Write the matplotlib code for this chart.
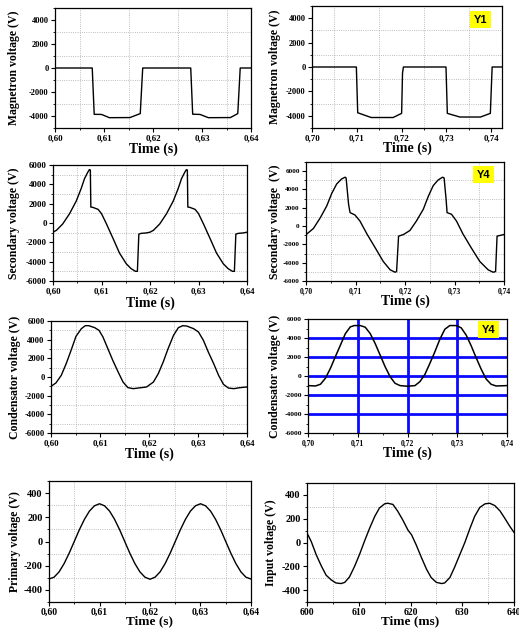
import numpy
import matplotlib
matplotlib.use("Agg")
import matplotlib.pyplot as plt
from matplotlib.ticker import MultipleLocator, FuncFormatter

plt.rcParams['font.family'] = ['Liberation Serif', 'DejaVu Serif']
plt.rcParams['font.weight'] = 'bold'

# magnetron voltage, 0.60 - 0.64 s
mag_t = [0.600, 0.6076, 0.6080, 0.6095, 0.6111, 0.6153, 0.6174, 0.6179,
	0.6277, 0.6281, 0.6296, 0.6313, 0.6358, 0.6373, 0.6378, 0.640]
mag_v = [0, 0, -3860, -3870, -4140, -4130, -3800, 0,
	0, -3850, -3870, -4140, -4130, -3800, 0, 0]

# magnetron voltage Y1, 0.70 - 0.742 s
mag_y1_t = [0.700, 0.7003, 0.7099, 0.7102, 0.7132, 0.7181, 0.7200, 0.7202, 0.7204,
	0.7299, 0.7302, 0.7330, 0.7376, 0.7398, 0.7402, 0.7424]
mag_y1_v = [-60, 0, 0, -3750, -4140, -4140, -3800, -500, 0,
	0, -3800, -4100, -4100, -3800, 0, 0]

# secondary voltage
sec_t = [0.6000, 0.6007, 0.6020, 0.6034, 0.6048, 0.6058, 0.6065, 0.6072, 0.6075, 0.6077,
	0.6078, 0.6082, 0.6093, 0.6100, 0.6110, 0.6124, 0.6137, 0.6151, 0.6161, 0.6170,
	0.6174, 0.6177, 0.6182, 0.6192, 0.6200,
	0.6207, 0.6220, 0.6234, 0.6248, 0.6258, 0.6265, 0.6272, 0.6275, 0.6277,
	0.6278, 0.6282, 0.6293, 0.6300, 0.6310, 0.6324, 0.6337, 0.6351, 0.6361, 0.6370,
	0.6374, 0.6377, 0.6382, 0.6392, 0.6400]
sec_v = [-950, -760, -100, 950, 2280, 3550, 4590, 5280, 5520, 5480,
	1650, 1620, 1410, 970, -70, -1620, -3100, -4210, -4720, -5000,
	-5000, -1150, -1070, -1030, -950,
	-760, -100, 950, 2280, 3550, 4590, 5280, 5520, 5480,
	1650, 1620, 1410, 970, -70, -1620, -3100, -4210, -4720, -5000,
	-5000, -1150, -1070, -1030, -950]

# secondary voltage Y4
sec_y4_t = [0.7002, 0.7015, 0.7029, 0.7042, 0.7052, 0.7062, 0.7072, 0.7079, 0.7081,
	0.7086, 0.7089, 0.7099, 0.7109, 0.7123, 0.7140, 0.7156, 0.7170, 0.7180, 0.7183,
	0.7187, 0.7197, 0.7210, 0.7223, 0.7237, 0.7247, 0.7257, 0.7267, 0.7276, 0.7279,
	0.7283, 0.7285, 0.7294, 0.7304, 0.7317, 0.7334, 0.7351, 0.7368, 0.7378, 0.7383,
	0.7386, 0.7400]
sec_y4_v = [-850, -260, 920, 2210, 3570, 4600, 5150, 5340, 5260,
	2390, 1470, 1210, 550, -850, -2390, -3860, -4780, -5040, -4970,
	-1100, -920, -480, 550, 1840, 3240, 4420, 5040, 5340, 5260,
	2940, 1470, 1290, 550, -850, -2390, -3860, -4780, -5040, -4970,
	-1100, -920]

# condensator voltage
cond_t = [0.6000, 0.6010, 0.6021, 0.6031, 0.6041, 0.6051, 0.6062, 0.6070, 0.6077, 0.6089,
	0.6098, 0.6106, 0.6116, 0.6126, 0.6137, 0.6147, 0.6157, 0.6168, 0.6178, 0.6195,
	0.6209, 0.6219, 0.6229, 0.6239, 0.6250, 0.6260, 0.6269, 0.6277, 0.6291, 0.6301,
	0.6311, 0.6321, 0.6332, 0.6342, 0.6352, 0.6362, 0.6373, 0.6386, 0.6400]
cond_v = [-1000, -640, 180, 1430, 2860, 4360, 5180, 5500, 5500, 5290,
	5000, 4290, 3040, 1790, 540, -540, -1140, -1250, -1180, -1070,
	-540, 360, 1610, 3040, 4460, 5290, 5500, 5460, 5180, 4820,
	3930, 2680, 1430, 180, -790, -1180, -1250, -1140, -1070]

# condensator voltage Y4
cond_y4_t = [0.7000, 0.7015, 0.7025, 0.7035, 0.7045, 0.7055, 0.7065, 0.7075, 0.7085, 0.7093,
	0.7105, 0.7115, 0.7125, 0.7135, 0.7145, 0.7155, 0.7165, 0.7175, 0.7185, 0.7200,
	0.7215, 0.7225, 0.7235, 0.7245, 0.7255, 0.7265, 0.7275, 0.7285, 0.7298, 0.7308,
	0.7318, 0.7328, 0.7338, 0.7348, 0.7358, 0.7368, 0.7378, 0.7400]
cond_y4_v = [-1010, -1050, -870, -240, 800, 2030, 3230, 4450, 5170, 5310,
	5310, 5140, 4470, 3420, 2200, 980, -70, -770, -1010, -1080,
	-1010, -590, 170, 1330, 2550, 3860, 4920, 5310, 5310, 5070,
	4300, 3180, 1920, 730, -310, -870, -1050, -1010]

# primary voltage, time in ms
prim_ms = [600, 601, 602, 603, 604, 605, 606, 607, 608, 609, 610,
	611, 612, 613, 614, 615, 616, 617, 618, 619, 620,
	621, 622, 623, 624, 625, 626, 627, 628, 629, 630,
	631, 632, 633, 634, 635, 636, 637, 638, 639, 640]
prim_v = [-310, -295, -251, -182, -96, 0, 96, 182, 251, 295, 312,
	295, 251, 182, 96, 0, -96, -182, -251, -295, -312,
	-295, -251, -182, -96, 0, 96, 182, 251, 295, 312,
	295, 251, 182, 96, 0, -96, -182, -251, -295, -310]

# input voltage, time in ms
inp_ms = [600.0, 600.8, 601.8, 602.8, 603.7, 604.7, 605.6, 606.6, 607.3, 608.2,
	609.2, 610.2, 611.1, 612.1, 613.1, 614.0, 615.0, 615.6, 616.6, 617.5,
	618.5, 619.5, 620.2, 621.1, 622.1, 623.1, 624.0, 625.0, 626.0, 626.6,
	627.6, 628.5, 629.5, 630.5, 631.5, 632.4, 633.4, 634.4, 635.3, 636.3,
	637.3, 638.2, 639.2, 640.0]
inp_v = [80, 10, -105, -200, -275, -315, -340, -345, -335, -290,
	-200, -95, 10, 120, 220, 290, 325, 330, 320, 265,
	190, 105, 65, -20, -125, -225, -295, -335, -345, -340,
	-295, -210, -105, 0, 120, 220, 295, 325, 330, 310,
	265, 205, 135, 85]

blue_x = [0.71, 0.72, 0.73]
blue_y = [-4000, -2000, 0, 2000, 4000]


def box(l, r, t, b):
	return [l / 519, 1 - b / 628, (r - l) / 519, (b - t) / 628]


comma = FuncFormatter(lambda v, p: ("%.2f" % v).replace(".", ","))
whole = FuncFormatter(lambda v, p: "%d" % round(v))


def setup(ax, xlim, ylim, xstep, ystep, xfmt, xlabel, ylabel, lx, ly, xts, yts, grid=True, xls=10):
	ax.set_xlim(xlim)
	ax.set_ylim(ylim)
	ax.xaxis.set_major_locator(MultipleLocator(xstep))
	ax.xaxis.set_minor_locator(MultipleLocator(xstep / 2))
	ax.yaxis.set_major_locator(MultipleLocator(ystep))
	ax.yaxis.set_minor_locator(MultipleLocator(ystep / 2))
	ax.xaxis.set_major_formatter(xfmt)
	ax.yaxis.set_major_formatter(whole)
	ax.tick_params(which='major', direction='out', length=3, width=0.8, pad=1.5)
	ax.tick_params(which='minor', direction='out', length=1.5, width=0.6)
	ax.tick_params(axis='x', labelsize=xts)
	ax.tick_params(axis='y', labelsize=yts)
	if grid:
		ax.grid(True, which='minor', linestyle=':', color='#a8a8a8', linewidth=0.6)
	for s in ax.spines.values():
		s.set_linewidth(0.9)
	ax.set_xlabel(xlabel, fontsize=xls, fontweight='bold')
	ax.set_ylabel(ylabel, fontsize=8.5, fontweight='bold')
	ax.xaxis.set_label_coords(0.5, ly)
	ax.yaxis.set_label_coords(lx, 0.5)


def tag(ax, text, x, y):
	ax.text(x, y, text, transform=ax.transAxes, ha='center', va='center',
		fontsize=8, fontweight='bold', family=['Liberation Sans', 'DejaVu Sans'],
		bbox=dict(facecolor='#ffff00', edgecolor='none', boxstyle='square,pad=0.3'))


fig = plt.figure(figsize=(5.19, 6.28), dpi=100)

ax1 = fig.add_axes(box(55, 251, 8, 128))
ax1.plot(mag_t, mag_v, color='black', linewidth=1.0)
setup(ax1, (0.60, 0.64), (-5000, 5000), 0.01, 2000, comma, "Time (s)",
	"Magnetron voltage (V)", -0.179, -0.122, 6.5, 6)

ax2 = fig.add_axes(box(312, 502, 6, 128))
ax2.plot(mag_y1_t, mag_y1_v, color='black', linewidth=1.0)
setup(ax2, (0.70, 0.7424), (-5000, 5000), 0.01, 2000, comma, "Time (s)",
	"Magnetron voltage (V)", -0.165, -0.112, 6.5, 6)
tag(ax2, "Y1", 0.887, 0.889)

ax3 = fig.add_axes(box(53, 247, 165, 281))
ax3.plot(sec_t, sec_v, color='black', linewidth=1.0)
setup(ax3, (0.60, 0.64), (-6000, 6000), 0.01, 2000, comma, "Time (s)",
	"Secondary voltage (V)", -0.17, -0.135, 6.5, 6.5)

ax4 = fig.add_axes(box(306, 504, 162, 281))
ax4.plot(sec_y4_t, sec_y4_v, color='black', linewidth=1.0)
setup(ax4, (0.70, 0.74), (-6000, 7000), 0.01, 2000, comma, "Time (s)",
	"Secondary voltage  (V)", -0.128, -0.112, 5.5, 5.2)
ax4.set_yticks([-6000, -4000, -2000, 0, 2000, 4000, 6000])
tag(ax4, "Y4", 0.897, 0.893)

ax5 = fig.add_axes(box(51, 247, 321, 433))
ax5.plot(cond_t, cond_v, color='black', linewidth=1.0)
setup(ax5, (0.60, 0.64), (-6000, 6000), 0.01, 2000, comma, "Time (s)",
	"Condensator voltage (V)", -0.155, -0.128, 6.5, 6.2)

ax6 = fig.add_axes(box(308, 507, 319, 433))
for x in blue_x:
	ax6.axvline(x, color='#0a0aff', linewidth=2.0, zorder=1)
for y in blue_y:
	ax6.axhline(y, color='#0a0aff', linewidth=2.0, zorder=1)
ax6.plot(cond_y4_t, cond_y4_v, color='black', linewidth=1.1, zorder=3)
setup(ax6, (0.70, 0.74), (-6000, 6000), 0.01, 2000, comma, "Time (s)",
	"Condensator voltage (V)", -0.137, -0.12, 5.5, 5.4, grid=False)
tag(ax6, "Y4", 0.907, 0.906)

ax7 = fig.add_axes(box(49, 251, 481, 602))
ax7.plot(numpy.array(prim_ms) / 1000.0, prim_v, color='black', linewidth=1.0)
setup(ax7, (0.60, 0.64), (-500, 500), 0.01, 200, comma, "Time (s)",
	"Primary voltage (V)", -0.14, -0.108, 7, 7.5, xls=9.5)
ax7.set_yticks([-400, -200, 0, 200, 400])
ax7.tick_params(axis='x', pad=1)

ax8 = fig.add_axes(box(307, 514, 483, 602))
ax8.plot(inp_ms, inp_v, color='black', linewidth=1.0)
setup(ax8, (600, 640), (-500, 500), 10, 200, whole, "Time (ms)",
	"Input voltage (V)", -0.146, -0.11, 7, 7.5, xls=9.5)
ax8.set_yticks([-400, -200, 0, 200, 400])
ax8.tick_params(axis='x', pad=1)

fig.savefig("out.png", dpi=100)
